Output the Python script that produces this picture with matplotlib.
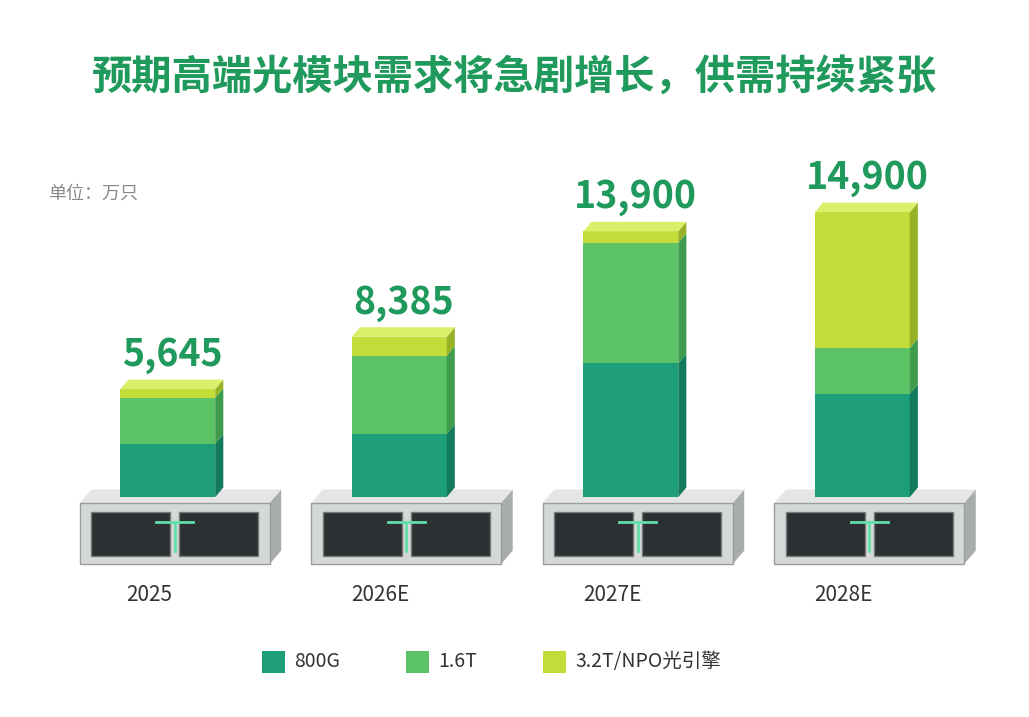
import matplotlib
matplotlib.use("Agg")
import matplotlib.pyplot as plt
from matplotlib.patches import Polygon, Rectangle

plt.rcParams['font.family'] = ['Noto Sans CJK SC', 'DejaVu Sans']

years = ["2025", "2026E", "2027E", "2028E"]
totals = [5645, 8385, 13900, 14900]
s800g = [2800, 3300, 7000, 5400]
s16t = [2400, 4100, 6300, 2400]
s32t = [445, 985, 600, 7100]
series_names = ["800G", "1.6T", "3.2T/NPO光引擎"]
colors = ["#1e9e78", "#5cc266", "#c3dc3a"]
side_colors = ["#137a5b", "#3f9c4c", "#98b226"]
top_colors = ["#3cb88f", "#82d488", "#dcef6a"]
green = "#1f9a5c"

fig = plt.figure(figsize=(10.29, 7.17), dpi=100)
fig.patch.set_facecolor("white")
fig.text(0.5, 0.893, "预期高端光模块需求将急剧增长，供需持续紧张", ha="center", va="center",
         fontsize=29, fontweight="bold", color=green)
fig.text(0.047, 0.73, "单位：万只", fontsize=13, color="#888888", va="center")

ax = fig.add_axes([0.055, 0.2, 0.9, 0.56])
ax.set_xlim(-0.5, 3.5)
ax.set_ylim(-4000, 17000)
ax.axis("off")

w = 0.41
dx, dy = 0.035, 500
for i in range(len(years)):
    # module base
    bx, bw = i - 0.4, 0.82
    ax.add_patch(Polygon([(bx + bw, -300), (bx + bw + 0.05, 400), (bx + bw + 0.05, -2800),
                          (bx + bw, -3500)], closed=True, fc="#a9acad", ec="none"))
    ax.add_patch(Polygon([(bx, -300), (bx + 0.05, 400), (bx + bw + 0.05, 400),
                          (bx + bw, -300)], closed=True, fc="#e3e5e6", ec="none"))
    ax.add_patch(Rectangle((bx, -3500), bw, 3200, fc="#d5d8d9", ec="#9a9d9e", lw=1))
    ax.add_patch(Rectangle((bx + 0.05, -3100), 0.34, 2300, fc="#2d3032", ec="#777", lw=1))
    ax.add_patch(Rectangle((bx + 0.43, -3100), 0.34, 2300, fc="#2d3032", ec="#777", lw=1))
    ax.plot([bx + 0.33, bx + 0.49], [-1300, -1300], color="#5fe0a8", lw=2)
    ax.plot([bx + 0.41, bx + 0.41], [-2800, -1300], color="#5fe0a8", lw=2)

    x0 = i - w / 2 - 0.02
    bottom = 0
    for vals, c, sc in zip([s800g, s16t, s32t], colors, side_colors):
        v = vals[i]
        ax.add_patch(Rectangle((x0, bottom), w, v, fc=c, ec="none"))
        ax.add_patch(Polygon([(x0 + w, bottom), (x0 + w + dx, bottom + dy),
                              (x0 + w + dx, bottom + v + dy), (x0 + w, bottom + v)],
                             closed=True, fc=sc, ec="none"))
        bottom += v
    ax.add_patch(Polygon([(x0, bottom), (x0 + dx, bottom + dy), (x0 + w + dx, bottom + dy),
                          (x0 + w, bottom)], closed=True, fc=top_colors[2], ec="none"))
    ax.text(i, totals[i] + 1800, f"{totals[i]:,}", ha="center", va="center",
            fontsize=27, fontweight="bold", color=green)
    ax.text(i - 0.1, -5100, years[i], ha="center", va="center", fontsize=15, color="#333333")

# legend
lx = [0.255, 0.395, 0.528]
for x, name, c in zip(lx, series_names, colors):
    fig.patches.append(Rectangle((x, 0.062), 0.022, 0.03, transform=fig.transFigure,
                                 fc=c, ec="none", figure=fig))
    fig.text(x + 0.031, 0.077, name, fontsize=14, color="#333333", va="center")

fig.savefig("out.png", dpi=100)
